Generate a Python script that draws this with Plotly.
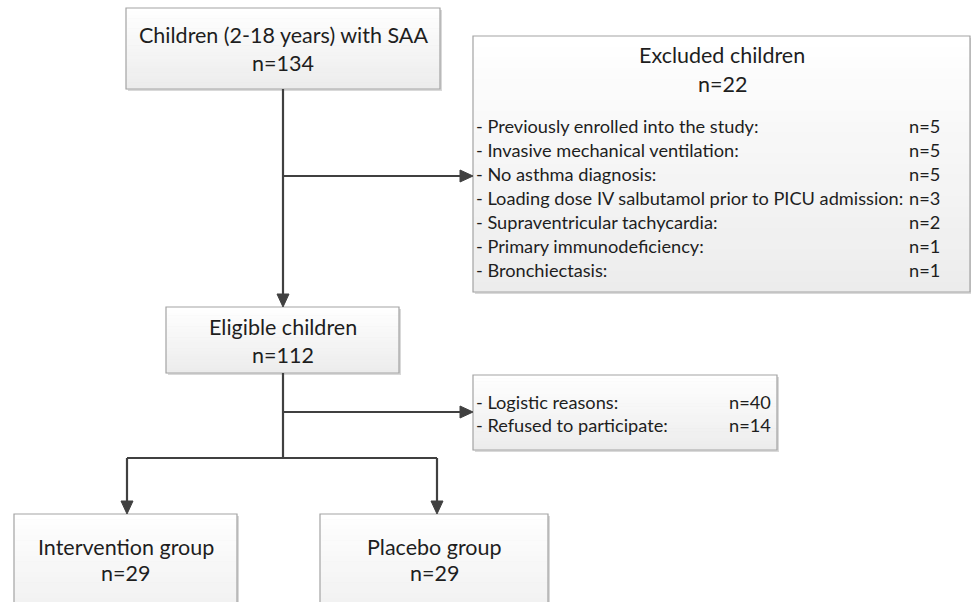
import plotly.graph_objects as go

# ---- data ----
top_title = "Children (2-18 years) with SAA"
top_n = 134
excl_title = "Excluded children"
excl_n = 22
excl_reasons = [
    "- Previously enrolled into the study:",
    "- Invasive mechanical ventilation:",
    "- No asthma diagnosis:",
    "- Loading dose IV salbutamol prior to PICU admission:",
    "- Supraventricular tachycardia:",
    "- Primary immunodeficiency:",
    "- Bronchiectasis:",
]
excl_counts = [5, 5, 5, 3, 2, 1, 1]
elig_title = "Eligible children"
elig_n = 112
nonpart_reasons = ["- Logistic reasons:", "- Refused to participate:"]
nonpart_counts = [40, 14]
groups = ["Intervention group", "Placebo group"]
group_n = [29, 29]

# ---- layout geometry ----
FONT = "Lato"
TXT = "#1e1e1e"
LINE = "#404040"
BORDER = "#a3a3a3"

boxes = {
    "top": (126, 8, 440, 89),
    "excl": (473, 36, 970, 292),
    "elig": (166, 307, 399, 373),
    "nonp": (473, 375, 777, 450),
    "int": (14, 514, 237, 640),
    "pla": (320, 514, 548, 640),
}

shapes = []
annotations = []


def hexmix(t):
    a, b = 255, 236
    v = int(round(a + (b - a) * t))
    return f"rgb({v},{v},{v})"


def box(x0, y0, x1, y1):
    shapes.append(dict(type="rect", x0=x0 + 2, y0=y0 + 2, x1=x1 + 2, y1=y1 + 2,
                       fillcolor="#d9d9d9", line=dict(width=0), layer="below"))
    n = 24
    h = (y1 - y0) / n
    for i in range(n):
        shapes.append(dict(type="rect", x0=x0, x1=x1, y0=y0 + i * h, y1=y0 + (i + 1) * h + 0.6,
                           fillcolor=hexmix((i + 0.5) / n), line=dict(width=0), layer="below"))
    shapes.append(dict(type="rect", x0=x0, y0=y0, x1=x1, y1=y1,
                       fillcolor="rgba(0,0,0,0)", line=dict(color=BORDER, width=1.2), layer="below"))


def seg(x0, y0, x1, y1):
    shapes.append(dict(type="line", x0=x0, y0=y0, x1=x1, y1=y1,
                       line=dict(color=LINE, width=2.2)))


def arrow(x0, y0, x1, y1):
    L, W = 13, 6
    if x0 == x1:
        seg(x0, y0, x1, y1 - L + 1)
        path = f"M {x1} {y1} L {x1 - W} {y1 - L} L {x1 + W} {y1 - L} Z"
    else:
        seg(x0, y0, x1 - L + 1, y1)
        path = f"M {x1} {y1} L {x1 - L} {y1 - W} L {x1 - L} {y1 + W} Z"
    shapes.append(dict(type="path", path=path, fillcolor=LINE, line=dict(color=LINE, width=1)))


def text(x, y, s, size, anchor="center"):
    annotations.append(dict(x=x, y=y, text=s, showarrow=False, xanchor=anchor, yanchor="middle",
                            font=dict(family=FONT, size=size, color=TXT)))


for b in boxes.values():
    box(*b)

MX = 283
arrow(MX, 89, MX, 307)
arrow(MX, 176, 473, 176)
seg(MX, 373, MX, 458)
arrow(MX, 412, 473, 412)
seg(127, 458, 437, 458)
arrow(127, 458, 127, 514)
arrow(437, 458, 437, 514)

BIG = 21.5
SMALL = 18.2
text(283, 35, top_title, BIG)
text(283, 63, f"n={top_n}", BIG)
text(722, 55, excl_title, BIG)
text(722, 84, f"n={excl_n}", BIG)
for i, (r, c) in enumerate(zip(excl_reasons, excl_counts)):
    y = 126 + i * 24.0
    text(474, y, r, SMALL, "left")
    text(907, y, f"n={c}", SMALL, "left")
for i, (r, c) in enumerate(zip(nonpart_reasons, nonpart_counts)):
    y = 402 + i * 23
    text(474, y, r, SMALL, "left")
    text(727, y, f"n={c}", SMALL, "left")
text(283, 327, elig_title, BIG)
text(283, 355, f"n={elig_n}", BIG)
for cx, g, n in zip([125.5, 434], groups, group_n):
    text(cx, 547, g, BIG)
    text(cx, 573, f"n={n}", BIG)

fig = go.Figure()
fig.update_layout(
    width=971, height=602, margin=dict(l=0, r=0, t=0, b=0),
    paper_bgcolor="white", plot_bgcolor="white",
    xaxis=dict(range=[0, 971], visible=False, fixedrange=True),
    yaxis=dict(range=[602, 0], visible=False, fixedrange=True),
    shapes=shapes, annotations=annotations, showlegend=False,
)
fig.write_html("out.html", config={"displayModeBar": False},
               post_script="document.body.style.margin='0';document.body.style.overflow='hidden';")
